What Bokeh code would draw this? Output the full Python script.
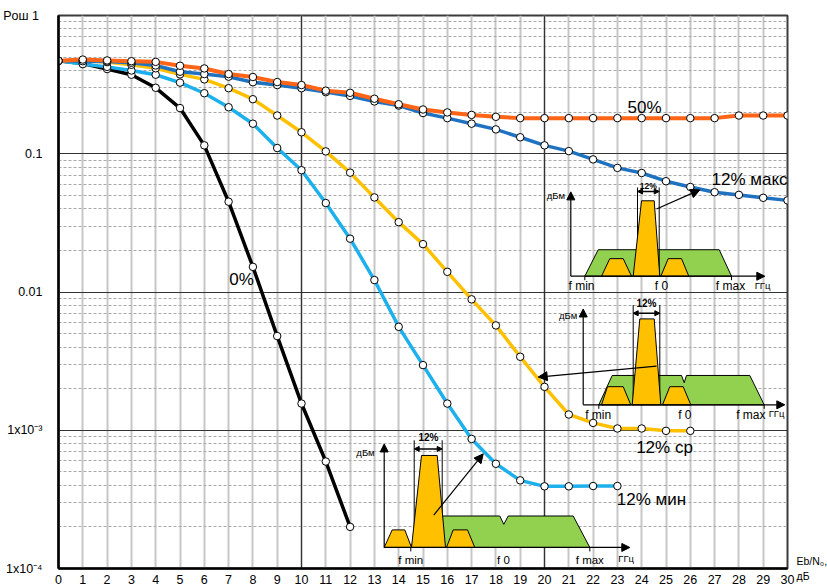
import math
from bokeh.plotting import figure
from bokeh.models import FixedTicker, Label, Arrow, NormalHead, Grid, LogAxis
from bokeh.embed import file_html
from bokeh.resources import INLINE

# ---------------- data ----------------
ebn0_db = list(range(31))
ber_0 = [0.47, 0.45, 0.41, 0.373, 0.30, 0.214, 0.115, 0.045, 0.0152, 0.0048,
         0.00156, 0.000594, 0.0002]
ber_50 = [0.47, 0.48, 0.473, 0.467, 0.462, 0.433, 0.414, 0.377, 0.359, 0.330,
          0.314, 0.286, 0.276, 0.250, 0.228, 0.209, 0.199, 0.191, 0.185, 0.181,
          0.181, 0.181, 0.181, 0.181, 0.181, 0.181, 0.181, 0.181, 0.189, 0.189, 0.189]
ber_12max = [0.47, 0.467, 0.465, 0.455, 0.435, 0.392, 0.377, 0.361, 0.329, 0.314,
             0.298, 0.279, 0.262, 0.239, 0.223, 0.197, 0.181, 0.165, 0.150, 0.1316,
             0.115, 0.1045, 0.091, 0.079, 0.0726, 0.0633, 0.0575, 0.0527, 0.0504, 0.048, 0.046]
ber_12avg = [0.47, 0.47, 0.46, 0.44, 0.415, 0.375, 0.345, 0.298, 0.248, 0.189,
             0.143, 0.104, 0.073, 0.0483, 0.032, 0.0222, 0.014, 0.00885, 0.00573, 0.0034,
             0.00206, 0.0013, 0.00113, 0.00103, 0.00103, 0.00099, 0.00099]
ber_12min = [0.47, 0.445, 0.425, 0.40, 0.373, 0.327, 0.274, 0.217, 0.165, 0.110,
             0.076, 0.044, 0.0243, 0.0122, 0.0056, 0.00296, 0.00156, 0.000865, 0.000572, 0.000434,
             0.000393, 0.000393, 0.000395, 0.000395]

x_ticks = list(range(31))
y_ticks = [1e-4, 1e-3, 1e-2, 1e-1, 1.0]
y_tick_labels = ["1x10\u207b\u2074", "1x10\u207b\u00b3", "0.01", "0.1", "P\u043e\u0448  1"]
y_minor = [k * 10.0 ** e for e in (-4, -3, -2, -1) for k in range(2, 10)]
x_title = "Eb/N\u2080,\n  \u0434\u0411"
curve_labels = ["0%", "50%", "12% макс", "12% ср", "12% мин"]

# ---------------- style ----------------
FONT = "Liberation Sans"
BLACK = "#000000"
ORANGE = "#ff6417"
BLUE = "#1f72bf"
GOLD = "#ffc000"
SKY = "#1cb0ec"
GREEN = "#92d050"

# reference geometry used to place the annotations (pixel -> data)
X0_PX, PX_PER_DB = 57.0, 24.3
Y0_PX, PX_PER_DEC = 15.0, 139.3


def to_data(px, py):
    return (px - X0_PX) / PX_PER_DB, 10 ** (-(py - Y0_PX) / PX_PER_DEC)


p = figure(frame_width=729, frame_height=553, x_range=(0, 30), y_range=(1e-4, 1),
           y_axis_type="log", output_backend="svg", toolbar_location=None,
           min_border_left=57, min_border_right=41, min_border_top=15, min_border_bottom=20,
           background_fill_color="white", border_fill_color="white")
p.outline_line_color = "#3c3c3c"
p.outline_line_width = 2

p.xaxis.ticker = FixedTicker(ticks=x_ticks)
p.yaxis.ticker = FixedTicker(ticks=y_ticks, minor_ticks=y_minor)
p.xgrid.ticker = FixedTicker(ticks=x_ticks)
p.ygrid.ticker = FixedTicker(ticks=y_ticks, minor_ticks=y_minor)

p.xgrid.grid_line_color = "#c6c6c6"
p.xgrid.grid_line_width = 2
p.ygrid.grid_line_color = "#333333"
p.ygrid.grid_line_width = 1
p.ygrid.minor_grid_line_color = "#a9a9a9"
p.ygrid.minor_grid_line_width = 1
p.ygrid.minor_grid_line_dash = "3 2"

dark_grid = Grid(dimension=0, ticker=FixedTicker(ticks=[10, 20]),
                 grid_line_color="#333333", grid_line_width=1.2)
p.add_layout(dark_grid)

for ax in (p.xaxis, p.yaxis):
    ax.axis_line_color = "black"
    ax.axis_line_width = 2.5
    ax.major_tick_line_color = None
    ax.minor_tick_line_color = None
    ax.major_label_text_font = FONT
    ax.major_label_text_color = "black"
p.xaxis.major_label_text_font_size = "12.5px"
p.xaxis.major_label_standoff = 0
p.yaxis.major_label_text_font_size = "12.5px"
p.yaxis.major_label_standoff = 10
p.yaxis.major_label_overrides = {t: s for t, s in zip(y_ticks, y_tick_labels)}

# axis title at the bottom right, carried by an extra right-hand axis
title_axis = LogAxis(ticker=FixedTicker(ticks=[1e-4]),
                     major_label_overrides={1e-4: x_title},
                     axis_line_color=None, major_tick_line_color=None,
                     minor_tick_line_color=None, major_label_standoff=3,
                     major_label_text_font=FONT, major_label_text_font_size="10.5px",
                     major_label_text_color="black")
p.add_layout(title_axis, "right")


def lab(px, py, text, size, align="left", bold=False):
    x, y = to_data(px, py)
    p.add_layout(Label(x=x, y=y, text=text, text_font=FONT, text_font_size=size,
                       text_align=align, text_baseline="middle", text_color="black",
                       text_font_style="bold" if bold else "normal"))


# ---------------- spectrum insets ----------------
insets = [
    dict(origin=(569.3, 277.7), vlen=85, hlen=194,
         green=[(14, 0), (27.4, -26.7), (148.4, -26.7), (160.7, 0)],
         yellow=[[(30.7, 0), (39, -17.7), (52.4, -17.7), (60.7, 0)],
                 [(62.4, 0), (70.7, -76), (83.4, -76), (89, 0)],
                 [(90, 0), (97.4, -17.7), (110.7, -17.7), (118, 0)]],
         br=(66.7, 88.4, -89.4, -85.4), pct=(77.5, -91.0, "8.5px"),
         ptr=((85.7, -67.7), (129, -87)),
         fmin=(10.7, 9.6), f0=(90.7, 9.6), fmax=(159.7, 9.6), ghz=(191.7, 9.0), dbm=(-15, -81),
         ticks=(14, 160.7), fs="12px"),
    dict(origin=(581.7, 407.3), vlen=96.6, hlen=201.6,
         green=[(15.6, 0), (29, -29.6), (98.3, -29.6), (101, -22.3), (103.3, -29.6),
                (166.6, -29.6), (181, 0)],
         yellow=[[(18.3, 0), (24.3, -18.3), (40, -18.3), (47.6, 0)],
                 [(49, 0), (56.6, -86.6), (71, -86.6), (77.6, 0)],
                 [(79.3, 0), (86.6, -18.3), (100, -18.3), (107.6, 0)]],
         br=(50, 76.6, -100.6, -92.3), pct=(63.3, -102.3, "10px"),
         ptr=((73.3, -39), (-45, -28)),
         fmin=(15, 10), f0=(101.6, 10), fmax=(167.6, 10), ghz=(193.3, 9), dbm=(-15, -90),
         ticks=(15.6, 181), fs="12px"),
    dict(origin=(382.7, 551), vlen=104.3, hlen=245.6,
         green=[(26.6, 0), (40, -31.7), (115.6, -31.7), (119.6, -23.3), (124, -31.7),
                (189, -31.7), (205.6, 0)],
         yellow=[[(0, 0), (8, -17.7), (20.6, -17.7), (27.3, 0)],
                 [(27.3, 0), (37.3, -92.7), (53, -92.7), (61.3, 0)],
                 [(62.3, 0), (69, -17.7), (83.3, -17.7), (90.6, 0)]],
         br=(30, 58, -108, -99.3), pct=(44.3, -111, "10px"),
         ptr=((49.6, -32.7), (99, -94.3)),
         fmin=(26.6, 12.3), f0=(119.3, 12.3), fmax=(205.6, 12.3), ghz=(242, 10.7), dbm=(-18.7, -96),
         ticks=(26.6, 205.6), fs="11.5px"),
]


def place(origin, pts):
    ox, oy = origin
    xs, ys = [], []
    for dx, dy in pts:
        x, y = to_data(ox + dx, oy + dy)
        xs.append(x)
        ys.append(y)
    return xs, ys


def arrow(x0, y0, x1, y1, size, width, both=False):
    kw = dict(end=NormalHead(size=size, fill_color="black", line_color="black", line_width=1),
              x_start=x0, y_start=y0, x_end=x1, y_end=y1, line_width=width, line_color="black")
    if both:
        kw["start"] = NormalHead(size=size, fill_color="black", line_color="black", line_width=1)
    p.add_layout(Arrow(**kw))


for ins in insets:
    o = ins["origin"]
    ox, oy = o
    gx, gy = place(o, ins["green"])
    p.patch(gx, gy, fill_color=GREEN, line_color="black", line_width=1)
    bl, brr, btop, barr = ins["br"]
    lx0, ly0 = place(o, [(bl, btop), (bl, 0)])
    lx1, ly1 = place(o, [(brr, btop), (brr, 0)])
    p.multi_line([lx0, lx1], [ly0, ly1], line_color="black", line_width=1)
    yxs, yys = [], []
    for poly in ins["yellow"]:
        xs, ys = place(o, poly)
        yxs.append(xs)
        yys.append(ys)
    p.patches(yxs, yys, fill_color=GOLD, line_color="black", line_width=1)
    for t in ins["ticks"]:
        tx, ty = place(o, [(t, 0), (t, 4)])
        p.line(tx, ty, line_color="black", line_width=1)
    ax0, ay0 = to_data(ox, oy)
    axv, ayv = to_data(ox, oy - ins["vlen"])
    axh, ayh = to_data(ox + ins["hlen"], oy)
    arrow(ax0, ay0, axv, ayv, 8, 1.2)
    arrow(ax0, ay0, axh, ayh, 8, 1.2)
    dx0, dy0 = to_data(ox + bl, oy + barr)
    dx1, dy1 = to_data(ox + brr, oy + barr)
    arrow(dx0, dy0, dx1, dy1, 5, 1.5, both=True)
    px_, py_, psz = ins["pct"]
    lab(ox + px_, oy + py_, "12%", psz, align="center", bold=True)
    (sx, sy), (ex, ey) = ins["ptr"]
    s = to_data(ox + sx, oy + sy)
    e = to_data(ox + ex, oy + ey)
    arrow(s[0], s[1], e[0], e[1], 9, 1.2)
    fs = ins["fs"]
    lab(ox + ins["fmin"][0], oy + ins["fmin"][1], "f min", fs, align="center")
    lab(ox + ins["f0"][0], oy + ins["f0"][1], "f 0", fs, align="center")
    lab(ox + ins["fmax"][0], oy + ins["fmax"][1], "f max", fs, align="center")
    lab(ox + ins["ghz"][0], oy + ins["ghz"][1], "ГГц", "9.5px", align="center")
    lab(ox + ins["dbm"][0], oy + ins["dbm"][1], "дБм", "9.5px", align="center")

# ---------------- curves ----------------
series = [
    (ber_0, BLACK, 3.5),
    (ber_12min, SKY, 3.5),
    (ber_12avg, GOLD, 3.5),
    (ber_12max, BLUE, 3.5),
    (ber_50, ORANGE, 4),
]
for vals, col, w in series:
    p.line(ebn0_db[:len(vals)], vals, line_color=col, line_width=w, line_join="round")
for vals, col, w in series:
    p.scatter(ebn0_db[:len(vals)], vals, size=7.5, fill_color="white",
              line_color="black", line_width=1)

label_pos = [(240, 281.5), (643, 108), (748, 180), (663, 450.5), (650, 502.5)]
for (lx, ly), t in zip(label_pos, curve_labels):
    lab(lx, ly, t, "17px", align="center")

open("out.html", "w", encoding="utf-8").write(file_html(p, INLINE))
